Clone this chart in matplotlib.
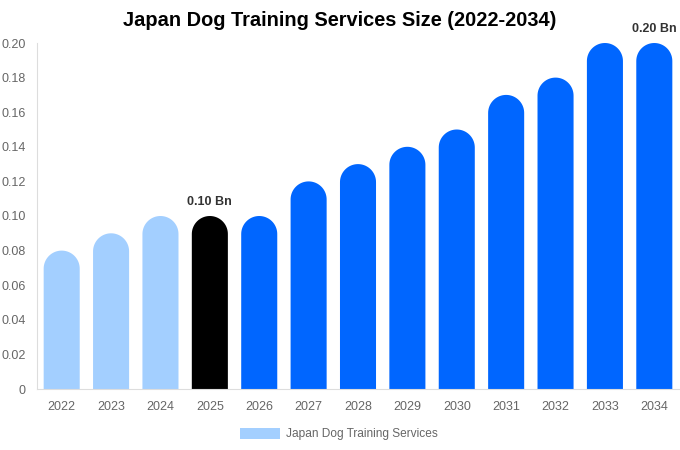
import matplotlib
matplotlib.use("Agg")
import matplotlib.pyplot as plt
import numpy as np
from matplotlib.patches import Polygon
from matplotlib.ticker import FuncFormatter

years = ["2022", "2023", "2024", "2025", "2026", "2027", "2028",
         "2029", "2030", "2031", "2032", "2033", "2034"]
values = [0.08, 0.09, 0.10, 0.10, 0.10, 0.12, 0.13, 0.14, 0.15, 0.17, 0.18, 0.20, 0.20]
colors = ["#a3cfff"] * 3 + ["#000000"] + ["#0066ff"] * 9
labels = {3: "0.10 Bn", 12: "0.20 Bn"}

plt.rcParams["font.family"] = ["Liberation Sans", "DejaVu Sans"]

fig = plt.figure(figsize=(6.8, 4.5), dpi=100)
ax = fig.add_axes([37 / 680, 61 / 450, 642 / 680, 346 / 450])
ax.set_xlim(-0.5, len(years) - 0.5)
ax.set_ylim(0, 0.2)

bar_w = 0.73
# cap radius in data units, so the top is a true half circle on screen
px_per_x = 642 / len(years)
px_per_y = 346 / 0.2
rx = bar_w / 2
ry = rx * px_per_x / px_per_y
theta = np.linspace(0, np.pi, 40)

for i, (v, c) in enumerate(zip(values, colors)):
    cap_x = i + rx * np.cos(theta)
    cap_y = (v - ry) + ry * np.sin(theta)
    xs = np.concatenate([[i + rx], cap_x, [i - rx]])
    ys = np.concatenate([[0], cap_y, [0]])
    ax.add_patch(Polygon(np.column_stack([xs, ys]), closed=True,
                         facecolor=c, edgecolor="none"))
    if i in labels:
        ax.text(i, v + 0.0045, labels[i], ha="center", va="bottom",
                fontsize=9, fontweight="bold", color="#333333")

ax.set_xticks(range(len(years)))
ax.set_xticklabels(years)
ax.set_yticks([0, 0.02, 0.04, 0.06, 0.08, 0.10, 0.12, 0.14, 0.16, 0.18, 0.20])
ax.yaxis.set_major_formatter(FuncFormatter(lambda y, _: "0" if y == 0 else f"{y:.2f}"))
ax.tick_params(length=0, labelsize=9, labelcolor="#666666")
ax.tick_params(axis="x", pad=9)
ax.tick_params(axis="y", pad=8)
for s in ["top", "right"]:
    ax.spines[s].set_visible(False)
for s in ["left", "bottom"]:
    ax.spines[s].set_color("#dddddd")

fig.text(0.5, 429 / 450, "Japan Dog Training Services Size (2022-2034)",
         ha="center", va="center", fontsize=14.4, fontweight="bold", color="#000000")

# legend
fig.patches.append(plt.Rectangle((240 / 680, 11 / 450), 40 / 680, 11 / 450,
                                 transform=fig.transFigure, color="#a3cfff", linewidth=0))
fig.text(286 / 680, 16.5 / 450, "Japan Dog Training Services",
         ha="left", va="center", fontsize=8.6, color="#666666")

fig.savefig("out.png", dpi=100)
